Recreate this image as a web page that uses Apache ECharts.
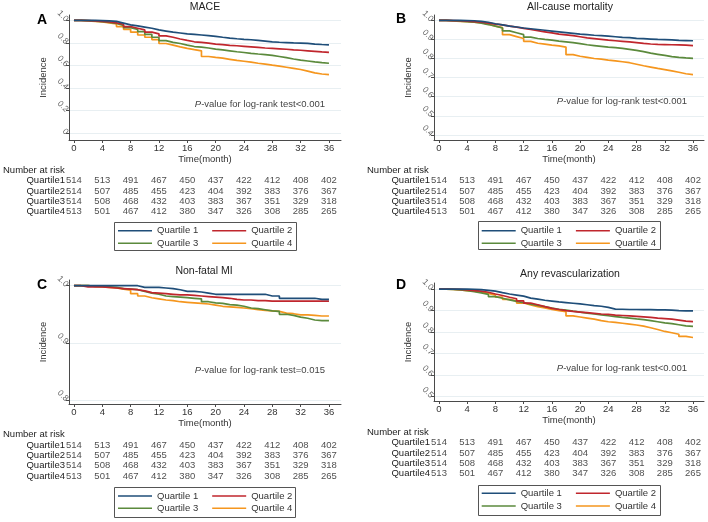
<!DOCTYPE html>
<html><head><meta charset="utf-8">
<script src="https://cdn.jsdelivr.net/npm/echarts@6/dist/echarts.min.js"></script>
<style>html,body{margin:0;padding:0;background:#fff}#c{width:708px;height:522px}</style>
</head><body><div id="c"></div>
<script>
// ---------- data ----------
const months = [0,1,2,3,4,5,6,7,8,9,10,11,12,13,14,15,16,17,18,19,20,21,22,23,24,25,26,27,28,29,30,31,32,33,34,35,36];
const seriesNames = ['Quartile 1','Quartile 2','Quartile 3','Quartile 4'];
const rowLabels = ['Quartile1','Quartile2','Quartile3','Quartile4'];
const riskTimes = [0,4,8,12,16,20,24,28,32,36];
const riskQ1 = [514,513,491,467,450,437,422,412,408,402];
const riskQ2 = [514,507,485,455,423,404,392,383,376,367];
const riskQ3 = [514,508,468,432,403,383,367,351,329,318];
const riskQ4 = [513,501,467,412,380,347,326,308,285,265];
const xTicks = [0,4,8,12,16,20,24,28,32,36];

// A: MACE
const maceQ1 = [1.0,1.0,1.0,0.998,0.995,0.99,0.975,0.96,0.95,0.94,0.93,0.915,0.905,0.895,0.888,0.88,0.875,0.87,0.864,0.858,0.85,0.843,0.837,0.832,0.828,0.822,0.816,0.81,0.806,0.803,0.80,0.799,0.796,0.79,0.786,0.783,0.78];
const maceQ2 = [1.0,0.998,0.995,0.99,0.985,0.978,0.965,0.945,0.93,0.915,0.895,0.88,0.862,0.85,0.835,0.822,0.81,0.805,0.798,0.79,0.785,0.779,0.775,0.77,0.765,0.76,0.755,0.752,0.748,0.744,0.738,0.735,0.73,0.725,0.72,0.716,0.713];
const maceQ3 = [1.0,0.997,0.993,0.988,0.982,0.972,0.955,0.935,0.92,0.9,0.875,0.85,0.82,0.805,0.795,0.78,0.768,0.762,0.755,0.745,0.738,0.73,0.722,0.715,0.708,0.702,0.697,0.69,0.68,0.67,0.658,0.648,0.64,0.632,0.625,0.62,0.616];
const maceQ4 = [1.0,0.995,0.99,0.985,0.978,0.968,0.945,0.92,0.895,0.87,0.85,0.83,0.795,0.78,0.765,0.752,0.74,0.73,0.68,0.672,0.665,0.655,0.645,0.638,0.63,0.62,0.612,0.603,0.595,0.585,0.575,0.565,0.55,0.535,0.525,0.52,0.516];
// B: All-cause mortality
const mortQ1 = [1,1,1,0.999,0.998,0.995,0.99,0.982,0.976,0.97,0.965,0.96,0.956,0.952,0.948,0.944,0.94,0.936,0.932,0.928,0.925,0.922,0.92,0.917,0.914,0.911,0.909,0.906,0.904,0.902,0.90,0.899,0.898,0.895,0.894,0.893,0.893];
const mortQ2 = [1,0.999,0.998,0.996,0.993,0.99,0.985,0.98,0.976,0.97,0.964,0.958,0.952,0.946,0.94,0.934,0.928,0.924,0.92,0.914,0.908,0.904,0.9,0.896,0.893,0.89,0.887,0.883,0.879,0.876,0.874,0.873,0.872,0.871,0.87,0.868,0.867];
const mortQ3 = [1,0.998,0.996,0.993,0.99,0.985,0.978,0.97,0.96,0.945,0.935,0.925,0.912,0.905,0.9,0.896,0.891,0.887,0.883,0.878,0.872,0.868,0.864,0.86,0.857,0.853,0.848,0.843,0.836,0.828,0.822,0.816,0.81,0.806,0.803,0.801,0.80];
const mortQ4 = [1,0.997,0.995,0.993,0.99,0.988,0.98,0.97,0.962,0.925,0.915,0.905,0.89,0.88,0.875,0.87,0.866,0.86,0.82,0.812,0.806,0.8,0.797,0.792,0.788,0.783,0.778,0.77,0.762,0.755,0.748,0.742,0.735,0.728,0.72,0.716,0.714];
// C: Non-fatal MI
const miQ1 = [1,1,1,1,1,1,1,1,1,0.997,0.997,0.997,0.996,0.995,0.993,0.99,0.99,0.989,0.987,0.985,0.985,0.985,0.985,0.985,0.985,0.985,0.985,0.982,0.982,0.978,0.978,0.978,0.978,0.978,0.976,0.976,0.976];
const miQ2 = [1,0.998,0.998,0.998,0.997,0.996,0.995,0.994,0.993,0.991,0.988,0.987,0.986,0.985,0.984,0.984,0.983,0.982,0.981,0.98,0.979,0.978,0.976,0.975,0.975,0.974,0.974,0.973,0.973,0.973,0.973,0.973,0.973,0.973,0.973,0.973,0.973];
const miQ3 = [1,1,0.999,0.999,0.998,0.997,0.995,0.994,0.993,0.99,0.987,0.985,0.982,0.981,0.98,0.979,0.978,0.977,0.972,0.97,0.969,0.967,0.966,0.964,0.961,0.96,0.958,0.956,0.955,0.95,0.948,0.945,0.943,0.94,0.939,0.939,0.939];
const miQ4 = [1,1,0.999,0.998,0.997,0.996,0.994,0.992,0.986,0.982,0.979,0.977,0.975,0.974,0.972,0.971,0.97,0.969,0.968,0.966,0.964,0.963,0.962,0.961,0.96,0.958,0.957,0.956,0.955,0.952,0.951,0.949,0.949,0.948,0.947,0.947,0.947];
// D: Any revascularization
const revQ1 = [1,1,1,1,0.999,0.997,0.994,0.99,0.983,0.977,0.972,0.967,0.958,0.953,0.948,0.944,0.94,0.937,0.934,0.931,0.927,0.923,0.92,0.915,0.907,0.906,0.905,0.905,0.904,0.904,0.903,0.903,0.902,0.9,0.899,0.899,0.899];
const revQ2 = [1,0.999,0.998,0.996,0.993,0.99,0.985,0.977,0.97,0.962,0.955,0.945,0.935,0.927,0.918,0.91,0.905,0.9,0.896,0.893,0.89,0.887,0.884,0.882,0.879,0.877,0.875,0.873,0.871,0.868,0.865,0.863,0.86,0.856,0.851,0.849,0.849];
const revQ3 = [1,0.998,0.996,0.992,0.988,0.982,0.975,0.965,0.957,0.95,0.943,0.937,0.93,0.924,0.918,0.912,0.906,0.902,0.897,0.893,0.888,0.884,0.88,0.876,0.872,0.868,0.865,0.861,0.858,0.853,0.848,0.843,0.839,0.834,0.829,0.827,0.827];
const revQ4 = [1,0.998,0.996,0.993,0.99,0.986,0.98,0.972,0.962,0.952,0.945,0.935,0.926,0.918,0.912,0.905,0.9,0.895,0.875,0.87,0.865,0.86,0.853,0.848,0.845,0.841,0.837,0.833,0.828,0.82,0.812,0.803,0.797,0.79,0.78,0.775,0.773];

const titles = ['MACE','All-cause mortality','Non-fatal MI','Any revascularization'];
const letters = ['A','B','C','D'];
const pValues = ['<0.001','<0.001','=0.015','<0.001'];
const yTicksA = [0,0.2,0.4,0.6,0.8,1.0];
const yTicksB = [0.4,0.5,0.6,0.7,0.8,0.9,1.0];
const yTicksC = [0.8,0.9,1.0];
const yTicksD = [0.5,0.6,0.7,0.8,0.9,1.0];

// ---------- layout ----------
const colors = ['#1f4e79','#c0262d','#5b8a3c','#f5961e'];
const FONT = 'Liberation Sans, Arial, Helvetica, sans-serif';
const L = [
  {left:69, top:15, w:272, h:125, xmin:-0.7, xmax:37.7, ymin:-0.059, ymax:1.047, riskTop:175.5, riskH:41.3,
   titleX:205, titleY:7, letX:42, letY:20, pX:325, pY:104, narX:3, narY:170, legX:118, legY1:230.7, legY2:243.3, box:[114,222,182,28]},
  {left:434, top:15, w:270, h:125, xmin:-0.709, xmax:37.56, ymin:0.373, ymax:1.028, riskTop:175.5, riskH:41.3,
   titleX:570, titleY:7, letX:401, letY:19, pX:687, pY:101, narX:367, narY:170, legX:481.7, legY1:230.7, legY2:243.3, box:[478,221,182,28]},
  {left:69, top:280, w:272, h:124, xmin:-0.7, xmax:37.7, ymin:0.793, ymax:1.01, riskTop:439.8, riskH:41.7,
   titleX:204, titleY:271, letX:42, letY:285, pX:325, pY:370, narX:3, narY:434, legX:118, legY1:496, legY2:508.3, box:[114,487,181,30]},
  {left:434, top:283, w:270, h:118, xmin:-0.709, xmax:37.56, ymin:0.48, ymax:1.028, riskTop:437.6, riskH:41,
   titleX:570, titleY:274, letX:401, letY:285, pX:687, pY:368, narX:367, narY:432, legX:481.7, legY1:493.3, legY2:506, box:[478,485,182,30]}
];

const panelData = [
  [maceQ1,maceQ2,maceQ3,maceQ4],
  [mortQ1,mortQ2,mortQ3,mortQ4],
  [miQ1,miQ2,miQ3,miQ4],
  [revQ1,revQ2,revQ3,revQ4]
];
const panelTicks = [yTicksA,yTicksB,yTicksC,yTicksD];
const riskRows = [riskQ1,riskQ2,riskQ3,riskQ4];

const grid = [], xAxis = [], yAxis = [], series = [], legend = [], graphic = [];
const axisCol = '#4a4a4a';

L.forEach((p, i) => {
  grid.push({left:p.left, top:p.top, width:p.w, height:p.h, containLabel:false});
  grid.push({left:p.left, top:p.riskTop, width:p.w, height:p.riskH, containLabel:false});
  xAxis.push({
    type:'value', gridIndex:2*i, min:p.xmin, max:p.xmax,
    name:'Time(month)', nameLocation:'middle', nameGap:13,
    nameTextStyle:{fontFamily:FONT, fontSize:9.5, color:'#333'},
    axisLine:{show:true, onZero:false, lineStyle:{color:axisCol, width:1}},
    axisTick:{show:true, length:3, customValues:xTicks, lineStyle:{color:axisCol}},
    axisLabel:{customValues:xTicks, margin:3, fontFamily:FONT, fontSize:9.5, color:'#333'},
    splitLine:{show:false}
  });
  xAxis.push({type:'value', gridIndex:2*i+1, min:p.xmin, max:p.xmax, show:false});
  const yt = panelTicks[i];
  yAxis.push({
    type:'value', gridIndex:2*i, min:p.ymin, max:p.ymax,
    name:'Incidence', nameLocation:'middle', nameGap:21, nameRotate:90,
    nameTextStyle:{fontFamily:FONT, fontSize:9.5, color:'#333'},
    axisLine:{show:true, onZero:false, lineStyle:{color:axisCol, width:1}},
    axisTick:{show:true, length:3, customValues:yt, lineStyle:{color:axisCol}},
    axisLabel:{customValues:yt, margin:2, rotate:-45, fontFamily:FONT, fontSize:8.5, color:'#666',
      formatter: v => (Math.abs(v) < 1e-9 ? '0' : v.toFixed(1))},
    splitLine:{show:true, lineStyle:{color:'#e8eff2', width:1}}
  });
  yAxis.push({
    type:'category', gridIndex:2*i+1, inverse:true, data:rowLabels,
    axisLine:{show:false}, axisTick:{show:false}, splitLine:{show:false},
    axisLabel:{interval:0, margin:4, fontFamily:FONT, fontSize:9.5, color:'#222'}
  });
  panelData[i].forEach((vals, q) => {
    series.push({
      type:'line', name:seriesNames[q], xAxisIndex:2*i, yAxisIndex:2*i,
      data: months.map((m, k) => [m, vals[k]]),
      step:'end', symbol:'none', showSymbol:false, silent:true,
      lineStyle:{width:1.7, color:colors[q]}, itemStyle:{color:colors[q]},
      z: 2 + (3 - q)
    });
  });
  riskRows.forEach((row, q) => {
    series.push({
      type:'scatter', name:'risk'+i+'_'+q, xAxisIndex:2*i+1, yAxisIndex:2*i+1,
      data: riskTimes.map((t, k) => [t, q, row[k]]),
      encode:{x:0, y:1},
      symbolSize:1, itemStyle:{color:'rgba(0,0,0,0)'}, silent:true,
      label:{show:true, position:'inside', formatter: pr => String(pr.value[2]),
        fontFamily:FONT, fontSize:9.5, color:'#222'}
    });
  });
  const legBase = {orient:'horizontal', itemWidth:34, itemHeight:1.6, itemGap:14, icon:'rect',
    padding:0, selectedMode:false, textStyle:{fontFamily:FONT, fontSize:9.5, color:'#333', lineHeight:11}};
  legend.push(Object.assign({}, legBase, {left:p.legX, top:p.legY1 - 5.5, data:[seriesNames[0], seriesNames[1]]}));
  legend.push(Object.assign({}, legBase, {left:p.legX, top:p.legY2 - 5.5, data:[seriesNames[2], seriesNames[3]]}));
  graphic.push({type:'rect', shape:{x:p.box[0]+0.5, y:p.box[1]+0.5, width:p.box[2], height:p.box[3]},
    style:{fill:'none', stroke:'#555', lineWidth:1}, silent:true});
  graphic.push({type:'text', x:p.titleX, y:p.titleY, style:{text:titles[i], fontFamily:FONT, fontSize:10.5,
    fill:'#222', align:'center', verticalAlign:'middle'}});
  graphic.push({type:'text', x:p.letX, y:p.letY, style:{text:letters[i], fontFamily:FONT, fontSize:14,
    fontWeight:'bold', fill:'#000', align:'center', verticalAlign:'middle'}});
  graphic.push({type:'text', x:p.pX, y:p.pY, style:{text:'{i|P}-value for log-rank test' + pValues[i],
    rich:{i:{fontStyle:'italic', fontFamily:FONT, fontSize:9.5, fill:'#444'}},
    fontFamily:FONT, fontSize:9.5, fill:'#444', align:'right', verticalAlign:'middle'}});
  graphic.push({type:'text', x:p.narX, y:p.narY, style:{text:'Number at risk', fontFamily:FONT, fontSize:9.5,
    fill:'#222', align:'left', verticalAlign:'middle'}});
});

const chart = echarts.init(document.getElementById('c'), null, {renderer:'canvas'});
chart.setOption({
  animation:false,
  backgroundColor:'#fff',
  grid, xAxis, yAxis, series, legend, graphic,
  tooltip:{show:false}
});
</script>
</body></html>
